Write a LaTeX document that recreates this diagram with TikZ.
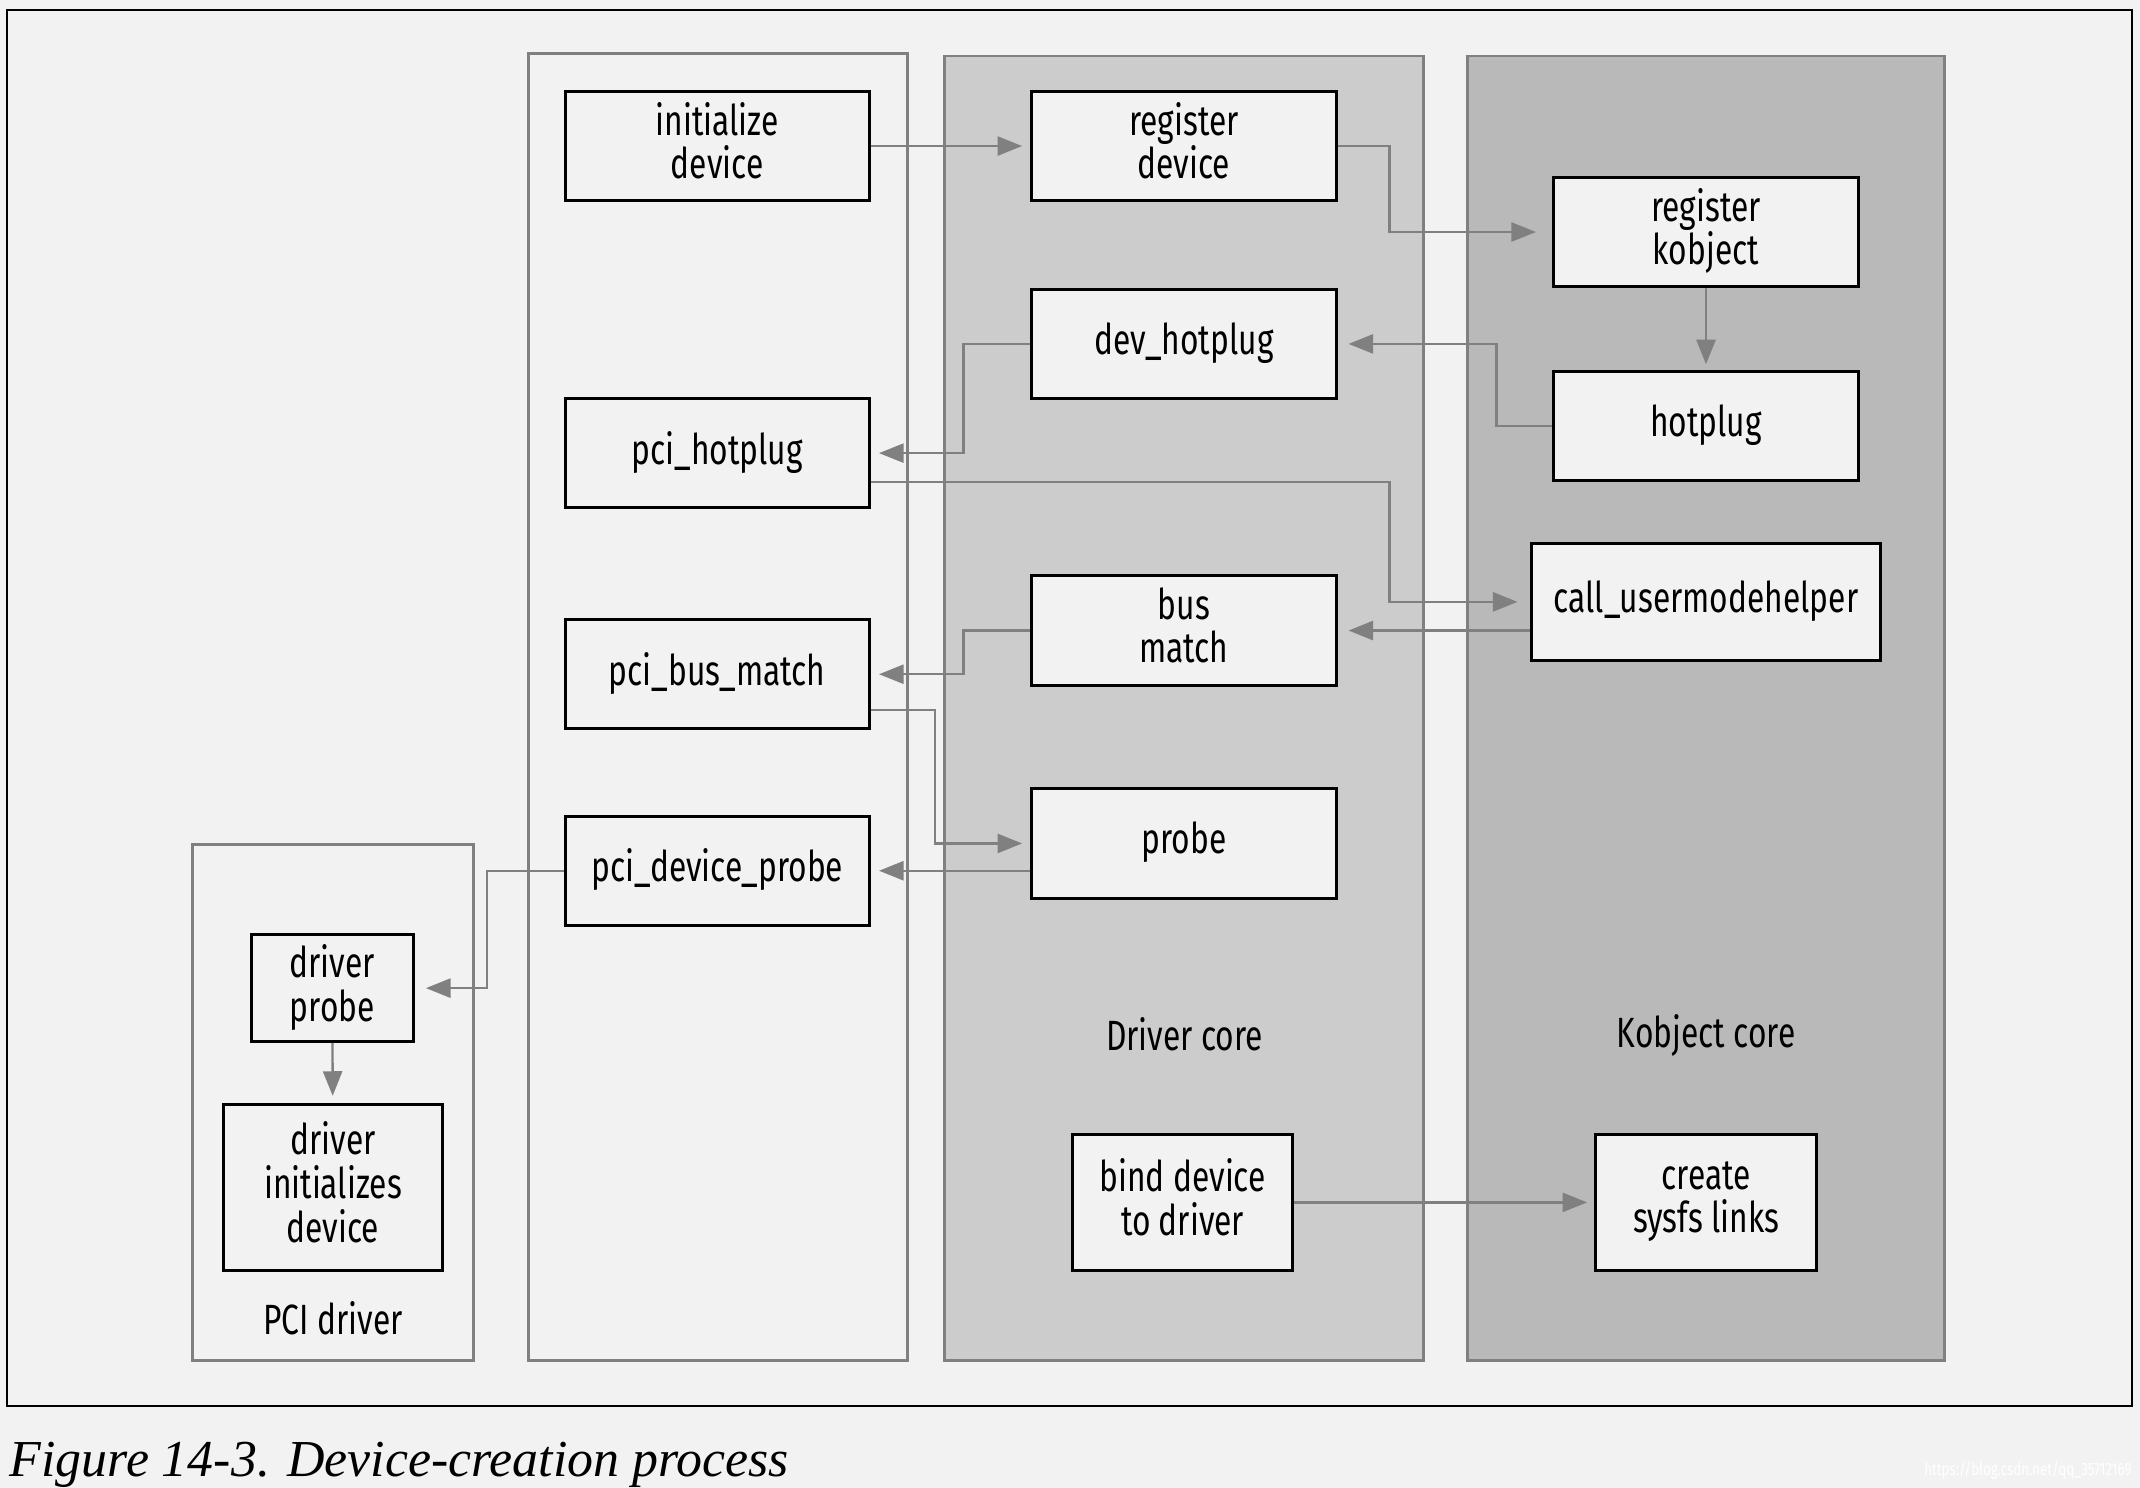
\documentclass[tikz,border=0pt]{standalone}
\usepackage{fontspec}
\setmainfont{Fira Sans}[FakeStretch=0.75]
\newfontfamily\captionfont{Liberation Serif}
\usetikzlibrary{arrows.meta}
\definecolor{paper}{gray}{0.95}
\definecolor{drvcore}{gray}{0.80}
\definecolor{kobjcore}{gray}{0.725}
\definecolor{wire}{gray}{0.5}
\begin{document}
\begin{tikzpicture}[x=1pt,y=-1pt,
  box/.style={draw=black,line width=2.2pt,fill=paper,inner sep=0pt,
    minimum width=223pt,minimum height=80pt,align=center,text depth=8pt,
    font=\fontsize{31}{32}\selectfont},
  lane/.style={draw=wire,line width=2pt},
  lanelabel/.style={inner sep=0pt,font=\fontsize{31}{32}\selectfont},
  conn/.style={draw=wire,line width=1.7pt,
    -{Triangle[length=18pt,width=14pt]},shorten >=6pt}]
\fill[paper] (0,0) rectangle (1568,1090);
\draw[line width=1.5pt] (5,7) rectangle (1562,1030);
% lanes
\draw[lane] (141,619) rectangle (347,997);
\draw[lane] (387,39) rectangle (665,997);
\draw[lane,fill=drvcore] (692,41) rectangle (1043,997);
\draw[lane,fill=kobjcore] (1075,41) rectangle (1425,997);
\node[lanelabel] (pcidrv) at (244,966) {PCI driver};
\node[lanelabel] (drvlbl) at (868,758) {Driver core};
\node[lanelabel] (kobjlbl) at (1250,759) {Kobject core};
% boxes
\node[box] (initdev) at (525.5,107) {initialize\\device};
\node[box] (phot) at (525.5,332) {pci\_hotplug};
\node[box] (pbm) at (525.5,494) {pci\_bus\_match};
\node[box] (pdp) at (525.5,638) {pci\_device\_probe};
\node[box] (regdev) at (867.5,107) {register\\device};
\node[box] (devhot) at (867.5,252) {dev\_hotplug};
\node[box] (busm) at (867.5,462) {bus\\match};
\node[box] (probe) at (867.5,618) {probe};
\node[box,minimum width=161pt,minimum height=100pt] (bind) at (866.5,881) {bind device\\to driver};
\node[box] (regkobj) at (1250,170) {register\\kobject};
\node[box] (hotplug) at (1250,312) {hotplug};
\node[box,minimum width=256pt,minimum height=86pt] (callum) at (1250,441) {call\_usermodehelper};
\node[box,minimum width=162pt,minimum height=100pt] (sysfs) at (1250,881) {create\\sysfs links};
\node[box,minimum width=119pt,minimum height=78pt] (drvprobe) at (243.5,724) {driver\\probe};
\node[box,minimum width=160pt,minimum height=122pt] (drvinit) at (244,870) {driver\\initializes\\device};
% connectors
\draw[conn] (initdev) -- (regdev);
\draw[conn,shorten >=12pt] (regdev.east) -- ++(38,0) |- (regkobj.west);
\draw[conn,shorten >=4pt] (regkobj) -- (hotplug);
\draw[conn,shorten >=8pt] (hotplug.west) -- ++(-41,0) |- (devhot.east);
\draw[conn] (devhot.west) -- ++(-49,0) |- (phot.east);
\draw[conn,shorten >=9pt] ([yshift=-21pt]phot.east) -- ++(380,0) |- (callum.west);
\draw[conn,shorten >=8pt] ([yshift=-21pt]callum.west) -- (busm.east);
\draw[conn] (busm.west) -- ++(-49,0) |- (pbm.east);
\draw[conn] ([yshift=-26pt]pbm.east) -- ++(47,0) |- (probe.west);
\draw[conn] ([yshift=-20pt]probe.west) -- (pdp.east);
\draw[conn,shorten >=8pt] (pdp.west) -- ++(-56,0) |- (drvprobe.east);
\draw[conn,shorten >=5pt] (drvprobe) -- (drvinit);
\draw[conn,shorten >=5pt] (bind) -- (sysfs);
% caption
\node[anchor=base west,inner sep=0pt,font=\captionfont\itshape\fontsize{38}{40}\selectfont] (caption) at (7,1082) {Figure 14-3. Device-creation process};
\node[anchor=base east,inner sep=0pt,text=white,font=\fontsize{13}{14}\selectfont] (mark) at (1562,1081) {https://blog.csdn.net/qq\_35712169};
\end{tikzpicture}
\end{document}
